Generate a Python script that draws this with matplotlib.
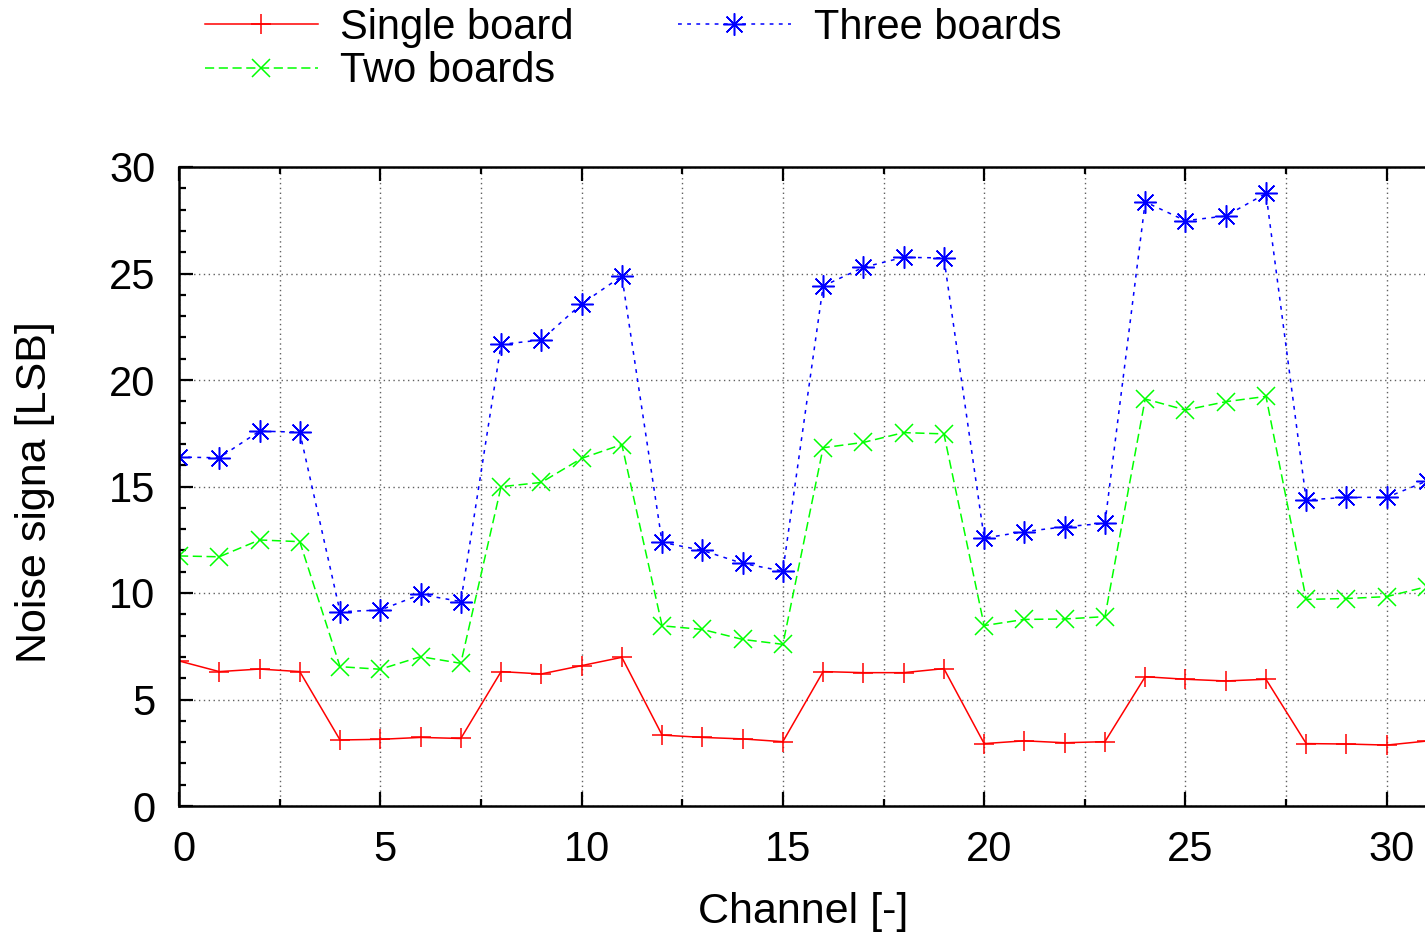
import matplotlib.pyplot as plt
from matplotlib.ticker import MultipleLocator
from matplotlib.transforms import ScaledTranslation

plt.rcParams['font.family'] = ['Liberation Sans', 'DejaVu Sans']

# channel numbers
channels = list(range(32))

# noise per channel
single_board = [6.81, 6.31, 6.43, 6.31, 3.10, 3.13, 3.22, 3.17,
                6.31, 6.20, 6.59, 6.98, 3.33, 3.22, 3.15, 3.02,
                6.31, 6.26, 6.26, 6.45, 2.93, 3.06, 2.97, 3.02,
                6.07, 5.95, 5.87, 5.95, 2.93, 2.91, 2.86, 3.05]
two_boards = [11.74, 11.70, 12.49, 12.41, 6.54, 6.42, 7.01, 6.70,
              14.99, 15.19, 16.32, 16.97, 8.46, 8.29, 7.82, 7.59,
              16.82, 17.07, 17.53, 17.47, 8.47, 8.76, 8.78, 8.89,
              19.11, 18.59, 18.98, 19.23, 9.70, 9.74, 9.83, 10.30]
three_boards = [16.38, 16.35, 17.60, 17.55, 9.12, 9.20, 9.93, 9.60,
                21.67, 21.88, 23.57, 24.88, 12.38, 12.00, 11.39, 11.03,
                24.41, 25.29, 25.76, 25.73, 12.58, 12.88, 13.11, 13.27,
                28.36, 27.48, 27.70, 28.76, 14.37, 14.49, 14.49, 15.26]

fig = plt.figure(figsize=(14.25, 9.34), dpi=100)
ax = fig.add_axes([179 / 1425, 128 / 934, 1248 / 1425, 639 / 934])

ax.plot(channels, single_board, color='#ff0000', lw=1.1, marker='+',
        ms=15, mew=1.1, label='Single board')
ax.plot(channels, two_boards, color='#00ff00', lw=1.1, ls=(0, (6, 3)),
        marker='x', ms=13, mew=1.1, label='Two boards')
ax.plot(channels, three_boards, color='#0000ff', lw=1.1, ls=(0, (2.5, 3.5)),
        marker=(8, 2, 0), ms=16, mew=1.1, label='Three boards')

ax.set_xlim(0, 31)
ax.set_ylim(0, 30)
ax.xaxis.set_major_locator(MultipleLocator(5))
ax.xaxis.set_minor_locator(MultipleLocator(2.5))
ax.yaxis.set_major_locator(MultipleLocator(5))
ax.yaxis.set_minor_locator(MultipleLocator(1))

ax.grid(True, which='major', axis='both', color='#606060', lw=1.0, ls=(0, (1, 2.5)))
ax.grid(True, which='minor', axis='x', color='#606060', lw=1.0, ls=(0, (1, 2.5)))

ax.tick_params(which='both', direction='in', top=True, right=False,
               labelsize=30, width=1.6, colors='black')
ax.tick_params(which='major', length=10)
ax.tick_params(which='minor', length=5)
ax.tick_params(axis='y', pad=17)
ax.tick_params(axis='x', pad=17)
for s in ax.spines.values():
    s.set_linewidth(1.8)

# gnuplot puts the x labels a little to the right of the ticks
shift = ScaledTranslation(5 / 100, 0, fig.dpi_scale_trans)
for lbl in ax.get_xticklabels():
    lbl.set_transform(lbl.get_transform() + shift)

ax.set_xlabel('Channel [-]', fontsize=31)
ax.set_ylabel('Noise signa [LSB]', fontsize=31)
ax.xaxis.set_label_coords(0.5, -0.134)
ax.yaxis.set_label_coords(-0.099, 0.491)

fig.legend(loc='upper left', bbox_to_anchor=(205 / 1425, 1 - 8 / 934),
           ncol=2, frameon=False, fontsize=30, borderpad=0, borderaxespad=0,
           handlelength=2.7, handletextpad=0.55, columnspacing=2.5,
           labelspacing=0.08)

fig.savefig('out.png', dpi=100)
